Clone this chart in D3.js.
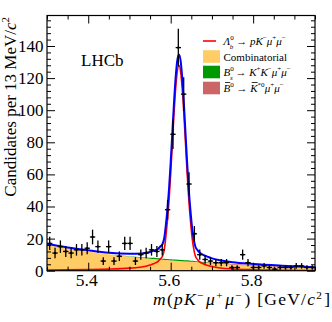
<!DOCTYPE html>
<html>
<head>
<meta charset="utf-8">
<script src="https://cdn.jsdelivr.net/npm/d3@7"></script>
<style>
body { margin: 0; background: #fff; }
svg text { font-family: "Liberation Serif", "Times New Roman", serif; fill: #000; }
</style>
</head>
<body>
<div id="chart"></div>
<script>
// histogram: 50 bins of 13 MeV starting at 5.30 GeV
const binLow = 5.30, binWidth = 0.013;
const counts = [17,11,15,12,11,13,13,14,21,15, 6,15,6,9,17,17,6,10,11,13,
                12,13,38,85,139,110,54,23,10,7, 6,5,5,5,2,2,10,5,2,2,
                3,2,1,2,2,2,3,3,2,2];

// fit components at these masses
const fitMass = [5.30,5.35,5.40,5.45,5.50,5.53,5.55,5.56,5.57,5.575,5.58,5.584,5.588,5.592,5.596,5.600,
                 5.604,5.608,5.612,5.616,5.620,5.624,5.628,5.632,5.636,5.640,5.644,5.648,5.652,5.656,
                 5.660,5.665,5.670,5.680,5.690,5.700,5.720,5.750,5.800,5.870,5.950];
const sigLb   = [0.35,0.5,0.7,1.0,1.6,2.3,3.6,4.5,6.0,7.5,9.0,12.5,20.5,31,44,60.5,
                 79,97.6,113.4,124.2,128,124.2,113.4,97.6,79,60.5,44,31,20.5,13.5,
                 9,7,5.5,4.2,3.3,2.6,1.7,1.1,0.6,0.3,0.15];
const bkgComb = [16.5,14.0,12.0,10.2,8.8,8.0,7.5,7.3,7.0,6.9,6.8,6.7,6.65,6.6,6.5,6.4,
                 6.3,6.25,6.2,6.1,6.0,5.95,5.9,5.8,5.75,5.7,5.6,5.55,5.5,5.45,
                 5.35,5.3,5.2,5.0,4.85,4.6,4.3,3.7,3.1,2.4,1.7];
const bkgBs   = [0,0,0,0,0.2,0.45,0.6,0.7,0.7,0.7,0.7,0.7,0.7,0.7,0.7,0.75,
                 0.75,0.75,0.75,0.75,0.75,0.75,0.75,0.75,0.75,0.75,0.7,0.7,0.65,0.6,
                 0.55,0.5,0.5,0.4,0.3,0.2,0.1,0,0,0,0];
const bkgB0   = [0,0,0,0,0,0,0,0,0,0,0,0,0,0,0,0,
                 0,0,0,0,0,0,0,0,0,0,0,0,0,0,
                 0,0.05,0.1,0.15,0.2,0.25,0.35,0.45,0.5,0.45,0.35];

const xMajor = [5.4, 5.6, 5.8];
const yMajor = [0, 20, 40, 60, 80, 100, 120, 140];

const W = 332, H = 322;
const pLeft = 47, pRight = 315, pTop = 15.5, pBottom = 270.7;

const x = d3.scaleLinear().domain([5.30, 5.95]).range([pLeft, pRight]);
const y = d3.scaleLinear().domain([0, 159]).range([pBottom, pTop]);

const svg = d3.select("#chart").append("svg")
    .attr("width", W)
    .attr("height", H);

svg.append("clipPath").attr("id", "clip")
  .append("rect")
    .attr("x", pLeft).attr("y", pTop)
    .attr("width", pRight - pLeft).attr("height", pBottom - pTop);

const plot = svg.append("g").attr("clip-path", "url(#clip)");

// stacked background components
const rows = fitMass.map((m, i) => ({m: m, comb: bkgComb[i], bs: bkgBs[i], b0: bkgB0[i], sig: sigLb[i]}));
const series = d3.stack().keys(["comb", "bs", "b0"])(rows);
const fills = {comb: "#ffcc66", bs: "#009900", b0: "#cc6666"};

const area = d3.area()
    .x(d => x(d.data.m))
    .y0(d => y(d[0]))
    .y1(d => y(d[1]))
    .curve(d3.curveMonotoneX);

plot.selectAll("path.bkg")
    .data(series)
    .enter()
    .append("path")
    .attr("class", "bkg")
    .attr("d", area)
    .attr("fill", d => fills[d.key])
    .attr("stroke", "none");

// signal curve (line only)
const sigLine = d3.line()
    .x(d => x(d.m))
    .y(d => y(d.sig))
    .curve(d3.curveMonotoneX);
plot.append("path")
    .attr("d", sigLine(rows))
    .attr("fill", "none")
    .attr("stroke", "#ff0000")
    .attr("stroke-width", 1.6);

// total fit
const totLine = d3.line()
    .x(d => x(d.m))
    .y(d => y(d.comb + d.bs + d.b0 + d.sig))
    .curve(d3.curveMonotoneX);
plot.append("path")
    .attr("d", totLine(rows))
    .attr("fill", "none")
    .attr("stroke", "#0000ff")
    .attr("stroke-width", 2);

// data points with poisson errors
const pts = counts.map((n, i) => ({c: binLow + binWidth * (i + 0.5), n: n}));
const dg = svg.append("g");
dg.selectAll("line.ex")
    .data(pts).enter().append("line")
    .attr("x1", d => x(d.c - binWidth / 2))
    .attr("x2", d => x(d.c + binWidth / 2))
    .attr("y1", d => y(d.n)).attr("y2", d => y(d.n))
    .attr("stroke", "#000").attr("stroke-width", 1.3);
dg.selectAll("line.ey")
    .data(pts).enter().append("line")
    .attr("x1", d => x(d.c)).attr("x2", d => x(d.c))
    .attr("y1", d => y(d.n + Math.sqrt(d.n)))
    .attr("y2", d => y(Math.max(0, d.n - Math.sqrt(d.n))))
    .attr("stroke", "#000").attr("stroke-width", 1.3);
dg.selectAll("circle")
    .data(pts).enter().append("circle")
    .attr("cx", d => x(d.c)).attr("cy", d => y(d.n))
    .attr("r", 1.2).attr("fill", "#000");

// frame + ticks on all four sides (pointing inward)
const minorX = d3.range(5.30, 5.951, 0.05).filter(v => !xMajor.some(t => Math.abs(t - v) < 1e-6));
const minorY = d3.range(0, 159, 4).filter(v => v % 20 !== 0);

function tickAxis(axisFn, scale, vals, size, transform) {
    const g = svg.append("g")
        .attr("transform", transform)
        .call(axisFn(scale).tickValues(vals).tickSizeInner(-size).tickSizeOuter(0).tickFormat(""));
    g.select(".domain").remove();
    g.selectAll("line").attr("stroke", "#000").attr("stroke-width", 1);
    return g;
}
tickAxis(d3.axisBottom, x, xMajor, 8, `translate(0,${pBottom})`);
tickAxis(d3.axisBottom, x, minorX, 4, `translate(0,${pBottom})`);
tickAxis(d3.axisTop, x, xMajor, 8, `translate(0,${pTop})`);
tickAxis(d3.axisTop, x, minorX, 4, `translate(0,${pTop})`);
tickAxis(d3.axisLeft, y, yMajor, 8, `translate(${pLeft},0)`);
tickAxis(d3.axisLeft, y, minorY, 4, `translate(${pLeft},0)`);
tickAxis(d3.axisRight, y, yMajor, 8, `translate(${pRight},0)`);
tickAxis(d3.axisRight, y, minorY, 4, `translate(${pRight},0)`);

svg.append("rect")
    .attr("x", pLeft).attr("y", pTop)
    .attr("width", pRight - pLeft).attr("height", pBottom - pTop)
    .attr("fill", "none").attr("stroke", "#000").attr("stroke-width", 1.2);

// tick labels
svg.append("g").selectAll("text")
    .data(xMajor).enter().append("text")
    .attr("x", d => x(d) - 1.5).attr("y", 286)
    .attr("text-anchor", "middle")
    .style("font-size", "17.5px")
    .text(d => d.toFixed(1));
svg.append("g").selectAll("text")
    .data(yMajor).enter().append("text")
    .attr("x", 43.5).attr("y", d => y(d) + 6)
    .attr("text-anchor", "end")
    .style("font-size", "17px")
    .text(d => d);

// rich text helper: parts with sup / sub / italic / overline
function rich(g, px, py, size, parts, anchor, supShift) {
    const t = g.append("text")
        .attr("x", px).attr("y", py)
        .attr("text-anchor", anchor || "start")
        .style("font-size", size + "px");
    let shift = 0, idx = 0;
    const overs = [];
    const up = supShift || 0.42;
    parts.forEach(p => {
        let s = 0, fs = size;
        if (p.sup) { s = -up * size; fs = 0.64 * size; }
        if (p.sub) { s = 0.33 * size; fs = 0.64 * size; }
        const ts = t.append("tspan")
            .attr("dy", s - shift)
            .style("font-size", fs + "px")
            .style("font-style", p.i ? "italic" : "normal")
            .text(p.t);
        if (p.dx) ts.attr("dx", p.dx);
        if (p.over) overs.push(idx);
        shift = s;
        idx += p.t.length;
    });
    overs.forEach(k => {
        const b = t.node().getExtentOfChar(k);
        g.append("line")
            .attr("x1", b.x + 1.5).attr("x2", b.x + b.width)
            .attr("y1", b.y + 0.5).attr("y2", b.y + 0.5)
            .attr("stroke", "#000").attr("stroke-width", 0.8);
    });
    return t;
}

// axis titles
rich(svg, 330, 305, 17.5, [
    {t: "m", i: 1}, {t: "("}, {t: "pK", i: 1}, {t: "−", sup: 1}, {t: "μ", i: 1, dx: 1.5}, {t: "+", sup: 1},
    {t: "μ", i: 1, dx: 1.5}, {t: "−", sup: 1}, {t: ")", dx: 1.5}, {t: " [GeV/"}, {t: "c", i: 1}, {t: "2", sup: 1}, {t: "]", dx: 1}
], "end", 0.34)
    .attr("textLength", 177)
    .attr("lengthAdjust", "spacing");

const yt = svg.append("g").attr("transform", "translate(16,17) rotate(-90)");
rich(yt, 0, 0, 17, [
    {t: "Candidates per 13 MeV/"}, {t: "c", i: 1}, {t: "2", sup: 1}
], "end");

// LHCb label
svg.append("text")
    .attr("x", 81).attr("y", 66)
    .style("font-size", "17px")
    .text("LHCb");

// legend
const lg = svg.append("g");
const lx = 203, tx = 223.5;
const rowY = [41, 56.5, 72, 88];
lg.append("line")
    .attr("x1", lx).attr("x2", lx + 13)
    .attr("y1", rowY[0]).attr("y2", rowY[0])
    .attr("stroke", "#ff0000").attr("stroke-width", 1.6);
[["#ffcc66", 1], ["#009900", 2], ["#cc6666", 3]].forEach(([c, k]) => {
    lg.append("rect")
        .attr("x", lx).attr("y", rowY[k] - 6.3)
        .attr("width", 17).attr("height", 12.6)
        .attr("fill", c);
});
const fs = 11;
rich(lg, tx, rowY[0] + 4, fs, [
    {t: "Λ", i: 1}, {t: "0", sup: 1}, {t: "b", sub: 1, i: 1, dx: -3.8}, {t: " → "}, {t: "pK", i: 1},
    {t: "−", sup: 1}, {t: "μ", i: 1}, {t: "+", sup: 1}, {t: "μ", i: 1}, {t: "−", sup: 1}
]);
rich(lg, tx, rowY[1] + 4, fs, [{t: "Combinatorial"}]);
rich(lg, tx, rowY[2] + 4, fs, [
    {t: "B", i: 1}, {t: "0", sup: 1}, {t: "s", sub: 1, i: 1, dx: -3.8}, {t: " → "}, {t: "K", i: 1},
    {t: "+", sup: 1}, {t: "K", i: 1}, {t: "−", sup: 1}, {t: "μ", i: 1}, {t: "+", sup: 1},
    {t: "μ", i: 1}, {t: "−", sup: 1}
]);
rich(lg, tx, rowY[3] + 4, fs, [
    {t: "B", i: 1, over: 1}, {t: "0", sup: 1}, {t: " → "}, {t: "K", i: 1, over: 1}, {t: "*0", sup: 1},
    {t: "μ", i: 1}, {t: "+", sup: 1}, {t: "μ", i: 1}, {t: "−", sup: 1}
]);
</script>
</body>
</html>
